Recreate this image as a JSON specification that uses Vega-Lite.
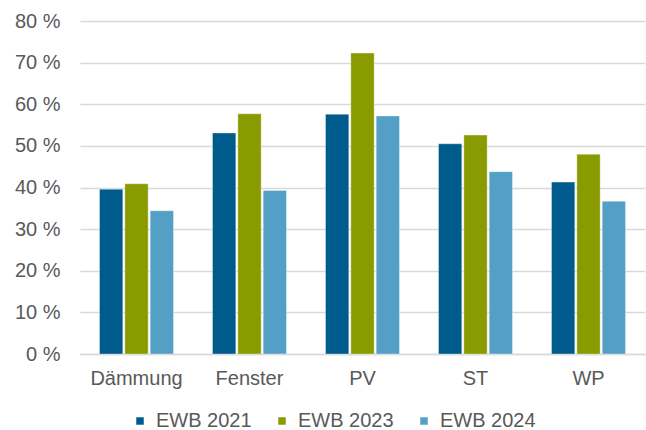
{
  "$schema": "https://vega.github.io/schema/vega-lite/v6.json",
  "autosize": {"type": "none"},
  "width": 565,
  "height": 333,
  "padding": {"left": 80, "top": 21, "right": 1, "bottom": 76},
  "background": "white",
  "data": {
    "values": [
      {"cat": "Dämmung", "series": "EWB 2021", "value": 39.6},
      {"cat": "Dämmung", "series": "EWB 2023", "value": 40.9},
      {"cat": "Dämmung", "series": "EWB 2024", "value": 34.4},
      {"cat": "Fenster", "series": "EWB 2021", "value": 53.1},
      {"cat": "Fenster", "series": "EWB 2023", "value": 57.7},
      {"cat": "Fenster", "series": "EWB 2024", "value": 39.3},
      {"cat": "PV", "series": "EWB 2021", "value": 57.6},
      {"cat": "PV", "series": "EWB 2023", "value": 72.3},
      {"cat": "PV", "series": "EWB 2024", "value": 57.2},
      {"cat": "ST", "series": "EWB 2021", "value": 50.5},
      {"cat": "ST", "series": "EWB 2023", "value": 52.6},
      {"cat": "ST", "series": "EWB 2024", "value": 43.8},
      {"cat": "WP", "series": "EWB 2021", "value": 41.3},
      {"cat": "WP", "series": "EWB 2023", "value": 48.0},
      {"cat": "WP", "series": "EWB 2024", "value": 36.7}
    ]
  },
  "mark": {"type": "bar", "stroke": "white", "strokeWidth": 0.6, "strokeOpacity": 0.6},
  "encoding": {
    "x": {
      "field": "cat",
      "type": "nominal",
      "sort": null,
      "scale": {"paddingInner": 0.345, "paddingOuter": 0.1725},
      "axis": {
        "title": null,
        "labelAngle": 0,
        "labelFont": "Liberation Sans",
        "labelFontSize": 20,
        "labelColor": "#595959",
        "labelPadding": 14,
        "ticks": false,
        "domainColor": "#d9d9d9",
        "domainWidth": 1.5
      }
    },
    "xOffset": {
      "field": "series",
      "type": "nominal",
      "scale": {"paddingInner": 0.08, "paddingOuter": 0}
    },
    "y": {
      "field": "value",
      "type": "quantitative",
      "scale": {"domain": [0, 80]},
      "axis": {
        "title": null,
        "values": [0, 10, 20, 30, 40, 50, 60, 70, 80],
        "labelExpr": "datum.value + ' %'",
        "labelOverlap": false,
        "labelFont": "Liberation Sans",
        "labelFontSize": 20,
        "labelColor": "#595959",
        "labelPadding": 20,
        "ticks": false,
        "domain": false,
        "gridColor": "#d9d9d9",
        "gridWidth": 1.5
      }
    },
    "color": {
      "field": "series",
      "type": "nominal",
      "scale": {
        "domain": ["EWB 2021", "EWB 2023", "EWB 2024"],
        "range": ["#005b8d", "#899b00", "#549fc6"]
      },
      "legend": {
        "title": null,
        "orient": "none",
        "direction": "horizontal",
        "legendX": 50,
        "legendY": 390,
        "symbolType": "square",
        "symbolSize": 56,
        "symbolStrokeWidth": 0,
        "labelFont": "Liberation Sans",
        "labelFontSize": 20,
        "labelColor": "#595959",
        "labelOffset": 6,
        "columnPadding": 20
      }
    }
  },
  "config": {"view": {"stroke": null}}
}
